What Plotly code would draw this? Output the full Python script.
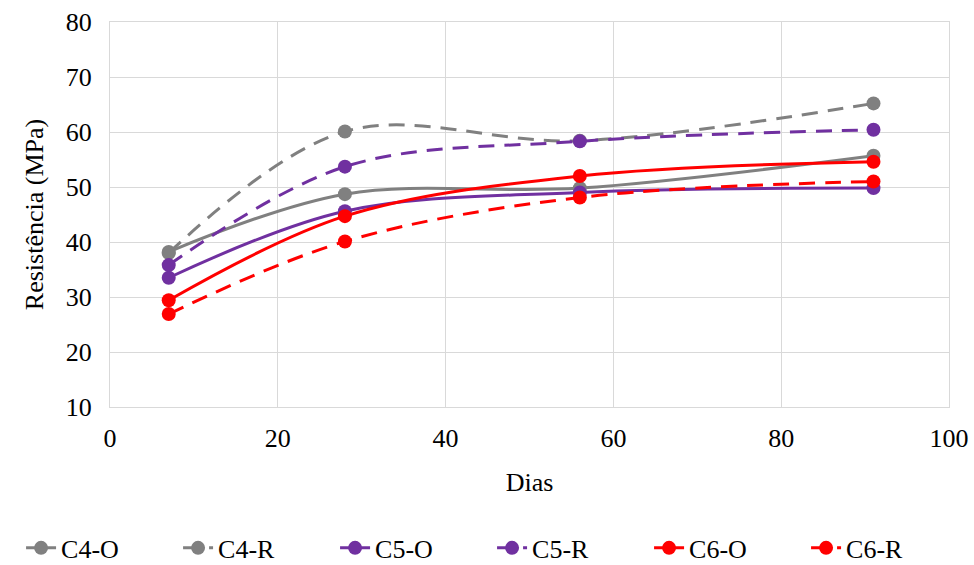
import plotly.graph_objects as go

# Idades de ensaio (dias) e resistência à compressão (MPa)
dias = [7, 28, 56, 91]
c4_o = [38.2, 48.7, 49.8, 55.7]
c4_r = [38.0, 60.1, 58.4, 65.2]
c5_o = [33.5, 45.6, 49.0, 49.8]
c5_r = [35.8, 53.7, 58.3, 60.4]
c6_o = [29.4, 44.7, 52.0, 54.6]
c6_r = [26.9, 40.1, 48.1, 51.0]

series = [
    ("C4-O", c4_o, "#808080", "solid"),
    ("C4-R", c4_r, "#808080", "16px,10px"),
    ("C5-O", c5_o, "#7030A0", "solid"),
    ("C5-R", c5_r, "#7030A0", "16px,10px"),
    ("C6-O", c6_o, "#FF0000", "solid"),
    ("C6-R", c6_r, "#FF0000", "16px,10px"),
]

fig = go.Figure()
for name, vals, color, dash in series:
    fig.add_trace(go.Scatter(
        x=dias, y=vals, name=name, mode="lines+markers",
        line=dict(color=color, width=3, dash=dash, shape="spline", smoothing=1.0),
        marker=dict(color=color, size=14),
    ))

font = dict(family="Liberation Serif, Times New Roman, serif", size=26, color="black")
grid = "#D9D9D9"

fig.update_layout(
    width=974, height=565,
    margin=dict(l=110, r=25, t=22, b=158, autoexpand=False),
    paper_bgcolor="white", plot_bgcolor="white",
    font=font,
    showlegend=True,
    # legend anchored left of the plot area so it may span the full figure width
    legend=dict(orientation="h", x=-0.106, xanchor="left",
                y=-0.305, yanchor="top",
                font=font, entrywidth=112, entrywidthmode="pixels",
                tracegroupgap=0),
    xaxis=dict(range=[0, 100], dtick=20, showgrid=True, gridcolor=grid, gridwidth=1,
               zeroline=False, showline=True, linecolor=grid, linewidth=1, mirror=True,
               ticks="", tickfont=font, ticklabelstandoff=8, automargin=True,
               title=dict(text="Dias", font=font, standoff=20)),
    yaxis=dict(range=[10, 80], dtick=10, showgrid=True, gridcolor=grid, gridwidth=1,
               zeroline=False, showline=True, linecolor=grid, linewidth=1, mirror=True,
               ticks="", tickfont=font, ticklabelstandoff=12, automargin=True,
               title=dict(text="Resistência (MPa)", font=font, standoff=14)),
)

fig.write_html("out.html")
